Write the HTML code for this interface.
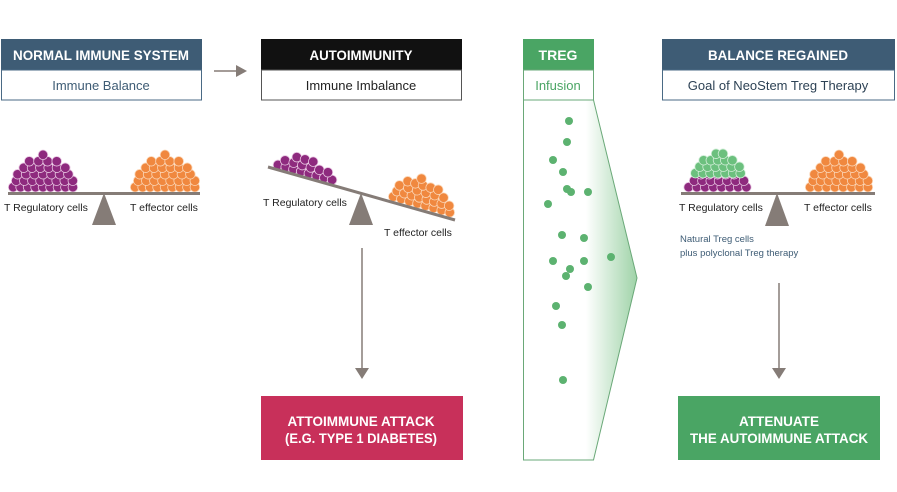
<!DOCTYPE html>
<html><head><meta charset="utf-8"><style>
html,body{margin:0;padding:0;background:#fff;width:897px;height:492px;overflow:hidden}
svg{display:block}
text{font-family:"Liberation Sans",sans-serif}
.h{font-weight:bold;font-size:14px}
</style></head><body>
<svg id="s" width="897" height="492" viewBox="0 0 897 492" xmlns="http://www.w3.org/2000/svg">
<defs>
<linearGradient id="g" x1="0" y1="0" x2="1" y2="0">
<stop offset="0" stop-color="#fff"/><stop offset="0.55" stop-color="#fff"/><stop offset="1" stop-color="#9fd3a8"/>
</linearGradient>
</defs>
<rect x="1" y="39" width="201" height="31" fill="#3e5c75"/>
<rect x="1.5" y="70" width="200" height="30" fill="#fff" stroke="#4a6a85"/>
<text class="h" x="101" y="60" text-anchor="middle" fill="#fff" textLength="176" lengthAdjust="spacingAndGlyphs">NORMAL IMMUNE SYSTEM</text>
<text x="101" y="90" text-anchor="middle" fill="#3e5c75" font-size="13">Immune Balance</text>
<line x1="214" y1="71" x2="238" y2="71" stroke="#857c77" stroke-width="1.5"/>
<polygon points="236,65 247,71 236,77" fill="#857c77"/>
<rect x="261" y="39" width="201" height="31" fill="#111"/>
<rect x="261.5" y="70" width="200" height="30" fill="#fff" stroke="#555"/>
<text class="h" x="361" y="60" text-anchor="middle" fill="#fff" textLength="103" lengthAdjust="spacingAndGlyphs">AUTOIMMUNITY</text>
<text x="361" y="90" text-anchor="middle" fill="#222" font-size="13">Immune Imbalance</text>
<polygon points="523.5,100 593.5,100 637,278 593.5,460 523.5,460" fill="url(#g)" stroke="#6aa878"/>
<rect x="523" y="39" width="71" height="31" fill="#4aa564"/>
<rect x="523.5" y="70" width="70" height="30" fill="#fff" stroke="#6aa878"/>
<text class="h" x="558" y="60" text-anchor="middle" fill="#fff">TREG</text>
<text x="558" y="90" text-anchor="middle" fill="#4aa564" font-size="13">Infusion</text>
<rect x="662" y="39" width="233" height="31" fill="#3e5c75"/>
<rect x="662.5" y="70" width="232" height="30" fill="#fff" stroke="#4a6a85"/>
<text class="h" x="778" y="60" text-anchor="middle" fill="#fff" textLength="140" lengthAdjust="spacingAndGlyphs">BALANCE REGAINED</text>
<text x="778" y="90" text-anchor="middle" fill="#2d4255" font-size="13">Goal of NeoStem Treg Therapy</text>
<g id="p1"></g>
<line x1="8" y1="193.5" x2="200" y2="193.5" stroke="#857c77" stroke-width="3"/>
<polygon points="104,193 92,225 116,225" fill="#857c77"/>
<text x="4" y="211" font-size="10.5" fill="#222">T Regulatory cells</text>
<text x="130" y="211" font-size="10.5" fill="#222">T effector cells</text>
<g id="p2"></g>
<line x1="268" y1="167" x2="455" y2="220" stroke="#857c77" stroke-width="3"/>
<polygon points="361,193 349,225 373,225" fill="#857c77"/>
<text x="263" y="206" font-size="10.5" fill="#222">T Regulatory cells</text>
<text x="384" y="236" font-size="10.5" fill="#222">T effector cells</text>
<line x1="362" y1="248" x2="362" y2="370" stroke="#857c77" stroke-width="1.5"/>
<polygon points="355,368 369,368 362,379" fill="#857c77"/>
<rect x="261" y="396" width="202" height="64" fill="#c8305a"/>
<text class="h" x="361" y="426" text-anchor="middle" fill="#fff" font-size="15" textLength="147" lengthAdjust="spacingAndGlyphs">ATTOIMMUNE ATTACK</text>
<text class="h" x="361" y="443" text-anchor="middle" fill="#fff" font-size="15" textLength="152" lengthAdjust="spacingAndGlyphs">(E.G. TYPE 1 DIABETES)</text>
<g id="dots" fill="#5cb270"></g>
<g id="p4"></g>
<line x1="681" y1="193.5" x2="875" y2="193.5" stroke="#857c77" stroke-width="3"/>
<polygon points="777,193 765,226 789,226" fill="#857c77"/>
<text x="679" y="211" font-size="10.5" fill="#222">T Regulatory cells</text>
<text x="804" y="211" font-size="10.5" fill="#222">T effector cells</text>
<text x="680" y="242" font-size="9.5" fill="#3e5c75">Natural Treg cells</text>
<text x="680" y="256" font-size="9.5" fill="#3e5c75">plus polyclonal Treg therapy</text>
<line x1="779" y1="283" x2="779" y2="370" stroke="#857c77" stroke-width="1.5"/>
<polygon points="772,368 786,368 779,379" fill="#857c77"/>
<rect x="678" y="396" width="202" height="64" fill="#4aa564"/>
<text class="h" x="779" y="426" text-anchor="middle" fill="#fff" font-size="15" textLength="80" lengthAdjust="spacingAndGlyphs">ATTENUATE</text>
<text class="h" x="779" y="443" text-anchor="middle" fill="#fff" font-size="15" textLength="178" lengthAdjust="spacingAndGlyphs">THE AUTOIMMUNE ATTACK</text>
</svg>
<script>
var NS="http://www.w3.org/2000/svg";
function c(g,x,y,r,f,s){var e=document.createElementNS(NS,"circle");e.setAttribute("cx",x);e.setAttribute("cy",y);e.setAttribute("r",r);e.setAttribute("fill",f);if(s){e.setAttribute("stroke",s);e.setAttribute("stroke-width","0.8");}g.appendChild(e);}
function pile(id,x0,x1,base,h,fill,stroke,slope){
 var g=document.getElementById(id);var r=4.8,cx=(x0+x1)/2,hw=(x1-x0)/2;
 for(var row=0;;row++){var y=base-r-row*r*1.35;var dy=(base-y)/h;if(dy>1)break;
  var w=hw*Math.pow(Math.max(0,1-dy*dy),0.6);var n=Math.max(1,Math.floor(2*w/(r*1.6)));
  for(var i=0;i<n;i++){var x=cx-w+r+(i*(2*w-2*r)/Math.max(1,n-1))+(row%2?1.5:0);
   if(n==1)x=cx;c(g,x,y+(x-x0)*slope,r,fill,stroke);}}
}
pile("p1",8,78,192,38,"#8e2a7e","#e9c8e3",0);
pile("p1",130,200,192,38,"#f0883f","#fbd7b8",0);
pile("p2",272,338,168,20,"#8e2a7e","#e9c8e3",0.278);
pile("p2",388,455,200,32,"#f0883f","#fbd7b8",0.278);
pile("p4",683,752,192,24,"#8e2a7e","#e9c8e3",0);
pile("p4",690,746,178,26,"#6cc07e","#d4efda",0);
pile("p4",805,873,192,38,"#f0883f","#fbd7b8",0);
var d=[[569,121],[567,142],[553,160],[563,172],[567,189],[571,192],[588,192],[548,204],[562,235],[584,238],[553,261],[584,261],[570,269],[566,276],[611,257],[588,287],[556,306],[562,325],[563,380]];
var g=document.getElementById("dots");d.forEach(function(p){c(g,p[0],p[1],4,"#5cb270");});
</script>
</body></html>
